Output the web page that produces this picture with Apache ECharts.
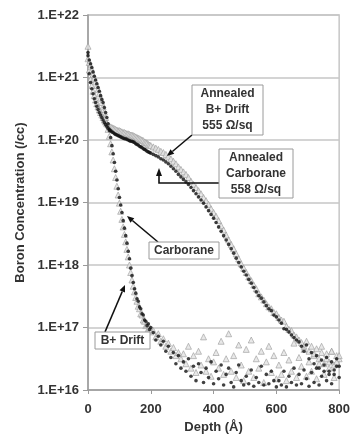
<!DOCTYPE html>
<html><head><meta charset="utf-8">
<script src="https://cdn.jsdelivr.net/npm/echarts@6/dist/echarts.min.js"></script>
<style>html,body{margin:0;padding:0;background:#fff}#c{width:353px;height:440px}</style>
</head><body><div id="c"></div>
<script>
// Depth (Å) sample positions
const depth = [0,4,8,12,16,20,24,28,32,36,40,44,48,52,56,60,64,68,72,76,80,84,88,92,96,100,104,108,112,116,120,124,128,132,136,140,144,148,152,156,160,164,168,172,176,180,184,188,192,196,200,
208,216,224,232,240,248,256,264,272,280,288,296,304,312,320,328,336,344,352,360,368,376,384,392,400,408,416,424,432,440,448,456,464,472,480,488,496,504,512,520,528,536,544,552,560,568,576,584,592,600,608,616,624,632,640,648,656,664,672,680,688,696,704,712,720,728,736,744,752,760,768,776,784,792,800];

// log10 of boron concentration (/cc)
const logDriftAsImplanted = [
21.35,21.28,21.22,21.16,21.09,21.02,20.96,20.9,20.84,20.78,
20.71,20.65,20.6,20.52,20.44,20.36,20.26,20.15,20.04,19.91,
19.78,19.64,19.5,19.36,19.22,19.08,18.96,18.84,18.71,18.59,
18.47,18.35,18.22,18.1,17.95,17.83,17.72,17.62,17.55,17.46,
17.42,17.33,17.3,17.22,17.2,17.12,17.1,17.03,17.06,16.97,
17.0,
16.92,16.8,16.86,16.72,16.78,16.62,16.7,16.52,16.6,16.42,16.55,16.35,
16.45,16.3,16.5,16.22,16.38,16.15,16.42,16.28,16.12,16.35,16.2,16.45,16.1,
16.3,16.18,16.4,16.08,16.25,16.35,16.12,16.05,16.28,16.4,16.15,16.08,16.22,
16.1,16.32,16.06,16.2,16.12,16.38,16.08,16.25,16.1,16.3,16.15,16.05,
16.15,16.08,16.3,16.05,16.22,16.12,16.35,16.08,16.25,16.1,16.32,16.18,16.06,
16.28,16.12,16.35,16.08,16.22,16.4,16.15,16.3,16.1,16.25,16.38,16.2];

const logCarboraneAsImplanted = [
21.3,21.24,21.18,21.12,21.05,20.99,20.93,20.87,20.81,20.74,
20.67,20.6,20.53,20.45,20.36,20.27,20.17,20.06,19.94,19.81,
19.68,19.54,19.4,19.26,19.12,18.99,18.86,18.73,18.61,18.49,
18.37,18.25,18.13,18.0,17.88,17.76,17.66,17.57,17.48,17.42,
17.34,17.3,17.22,17.2,17.12,17.1,17.03,17.05,16.98,17.0,
16.93,
16.95,16.85,16.9,16.78,16.82,16.7,16.75,16.62,16.68,16.55,16.6,16.5,
16.58,16.42,16.7,16.35,16.55,16.28,16.62,16.4,16.85,16.3,16.5,16.22,16.45,
16.6,16.35,16.78,16.25,16.5,16.9,16.3,16.55,16.2,16.72,16.4,16.15,16.65,
16.3,16.8,16.2,16.5,16.35,16.62,16.12,16.45,16.7,16.28,16.55,16.18,
16.4,16.25,16.6,16.15,16.48,16.3,16.75,16.2,16.52,16.38,16.65,16.22,16.45,
16.3,16.58,16.18,16.42,16.7,16.25,16.5,16.35,16.62,16.2,16.45,16.55];

const logDriftAnnealed = [
21.5,21.12,20.97,20.87,20.78,20.71,20.64,20.58,20.53,20.48,
20.44,20.4,20.36,20.32,20.29,20.26,20.24,20.22,20.21,20.2,
20.19,20.18,20.17,20.16,20.15,20.15,20.14,20.13,20.12,20.12,
20.11,20.1,20.1,20.09,20.08,20.08,20.07,20.06,20.05,20.04,
20.03,20.02,20.01,20.0,19.99,19.97,19.96,19.95,19.93,19.92,
19.91,
19.89,19.87,19.85,19.82,19.8,19.77,19.74,19.7,19.66,19.62,
19.57,19.53,19.49,19.45,19.4,19.34,19.29,19.24,19.19,19.14,
19.08,19.03,18.97,18.9,18.84,18.78,18.71,18.63,18.56,18.48,
18.4,18.33,18.26,18.18,18.1,18.02,17.95,17.88,17.81,17.75,
17.68,17.62,17.54,17.49,17.44,17.38,17.33,17.3,17.24,17.22,
17.16,17.12,17.1,17.02,16.97,16.95,16.88,16.85,16.8,16.76,
16.7,16.78,16.62,16.7,16.55,16.66,16.5,16.6,16.42,16.58,
16.45,16.62,16.4,16.55,16.5];

const logCarboraneAnnealed = [
21.4,21.06,20.92,20.82,20.74,20.66,20.6,20.54,20.49,20.44,
20.4,20.36,20.32,20.28,20.25,20.22,20.19,20.17,20.15,20.13,
20.12,20.1,20.09,20.08,20.07,20.06,20.05,20.04,20.03,20.02,
20.02,20.01,20.0,19.99,19.98,19.98,19.97,19.96,19.94,19.93,
19.92,19.9,19.89,19.88,19.86,19.85,19.84,19.82,19.81,19.8,
19.79,
19.77,19.75,19.73,19.7,19.68,19.65,19.62,19.58,19.54,19.5,
19.45,19.41,19.37,19.33,19.29,19.24,19.19,19.14,19.09,19.04,
18.99,18.93,18.87,18.81,18.75,18.68,18.61,18.54,18.47,18.4,
18.33,18.26,18.19,18.11,18.04,17.97,17.9,17.84,17.77,17.71,
17.64,17.57,17.51,17.47,17.41,17.35,17.3,17.27,17.2,17.17,
17.12,17.07,16.98,16.97,16.93,16.88,16.84,16.8,16.77,16.7,
16.62,16.72,16.5,16.6,16.42,16.55,16.35,16.48,16.3,16.52,
16.25,16.45,16.32,16.5,16.38];

const xTicks = [0,200,400,600,800];
const yTickLabels = ['1.E+16','1.E+17','1.E+18','1.E+19','1.E+20','1.E+21','1.E+22'];

const FONT = 'Liberation Sans, Arial, sans-serif';
const TXT = '#333';

function pairs(logs){ return logs.map((v,i)=>[depth[i], Math.pow(10, v)]); }

const tri = {symbol:'triangle', symbolSize:6, itemStyle:{color:'#e2e2e2', borderColor:'#9c9c9c', borderWidth:0.8}};
const dot = {symbol:'circle', symbolSize:3.6, itemStyle:{color:'#111'}};

const chart = echarts.init(document.getElementById('c'), null, {renderer:'canvas'});

function arrow(x1,y1,x2,y2){
  const L=7, W=3;
  const dx=x2-x1, dy=y2-y1, d=Math.hypot(dx,dy), ux=dx/d, uy=dy/d;
  const bx=x2-ux*L, by=y2-uy*L;
  return [
    {type:'line', shape:{x1:x1,y1:y1,x2:bx,y2:by}, style:{stroke:'#111', lineWidth:1.6}, z:100},
    {type:'polygon', shape:{points:[[x2,y2],[bx-uy*W,by+ux*W],[bx+uy*W,by-ux*W]]}, style:{fill:'#111'}, z:100}
  ];
}
function box(x,y,w,h,text){
  return [
    {type:'rect', shape:{x:x,y:y,width:w,height:h}, style:{fill:'#fff', stroke:'#9a9a9a', lineWidth:1}, z:101},
    {type:'text', x:x+w/2, y:y+h/2, style:{text:text, textAlign:'center', textVerticalAlign:'middle', font:'bold 12px '+FONT, fill:TXT, lineHeight:16}, z:102}
  ];
}

const graphics = [].concat(
  arrow(192,135,167,156),
  box(192,85,71,50,'Annealed\nB+ Drift\n555 Ω/sq'),
  [{type:'polyline', shape:{points:[[219,183],[159,183],[159,176]]}, style:{stroke:'#111', lineWidth:1.6, fill:null}, z:100},
   {type:'polygon', shape:{points:[[159,168],[156,176],[162,176]]}, style:{fill:'#111'}, z:100}],
  box(219,149,74,49,'Annealed\nCarborane\n558 Ω/sq'),
  arrow(158,242,127,216),
  box(149,242,70,17,'Carborane'),
  arrow(105,332,125,285),
  box(95,332,55,17,'B+ Drift')
);

chart.setOption({
  animation:false,
  backgroundColor:'#fff',
  grid:{left:88, right:13, top:15, bottom:50, show:true, borderColor:'#c6c6c6', borderWidth:1.5},
  xAxis:{type:'value', min:0, max:800, interval:200,
    name:'Depth (Å)', nameLocation:'middle', nameGap:27,
    nameTextStyle:{fontFamily:FONT, fontWeight:'bold', fontSize:13, color:TXT},
    axisLine:{show:true, lineStyle:{color:'#9a9a9a', width:1.5}},
    axisTick:{show:true, length:4, lineStyle:{color:'#9a9a9a'}},
    axisLabel:{fontFamily:FONT, fontWeight:'bold', fontSize:13, color:TXT, margin:13,
      formatter:(v)=> xTicks.indexOf(v)>=0 ? String(v) : ''},
    splitLine:{show:false}},
  yAxis:{type:'log', logBase:10, min:1e16, max:1e22, splitNumber:6,
    name:'Boron Concentration (/cc)', nameLocation:'middle', nameGap:60,
    nameTextStyle:{fontFamily:FONT, fontWeight:'bold', fontSize:13, color:TXT},
    axisLine:{show:true, lineStyle:{color:'#9a9a9a', width:1.5}},
    axisTick:{show:true, length:5, lineStyle:{color:'#9a9a9a'}},
    axisLabel:{fontFamily:FONT, fontWeight:'bold', fontSize:13, color:TXT, margin:9,
      formatter:(v)=>{ const e=Math.round(Math.log10(v)); return yTickLabels[e-16] || ''; }},
    splitLine:{show:true, lineStyle:{color:'#c6c6c6', width:1.5}}},
  series:[
    Object.assign({type:'scatter', name:'Annealed B+ Drift', data:pairs(logDriftAnnealed), silent:true}, tri),
    Object.assign({type:'scatter', name:'As-implanted Carborane', data:pairs(logCarboraneAsImplanted), silent:true}, tri),
    Object.assign({type:'scatter', name:'Annealed Carborane', data:pairs(logCarboraneAnnealed), silent:true}, dot),
    Object.assign({type:'scatter', name:'As-implanted B+ Drift', data:pairs(logDriftAsImplanted), silent:true}, dot)
  ],
  graphic:graphics
});
</script></body></html>
